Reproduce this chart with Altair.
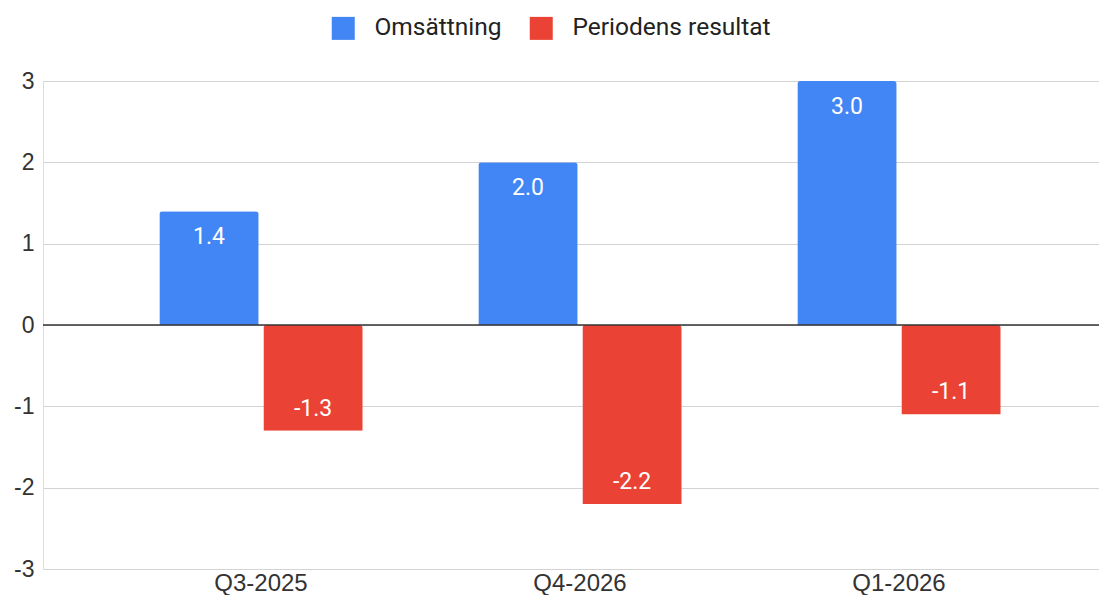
import altair as alt
import pandas as pd

categories = ["Q3-2025", "Q4-2026", "Q1-2026"]
omsattning = [1.4, 2.0, 3.0]
resultat = [-1.3, -2.2, -1.1]
series_names = ["Omsättning", "Periodens resultat"]
colors = ["#4285F4", "#EA4335"]
y_ticks = [-3, -2, -1, 0, 1, 2, 3]

rows = []
for i, c in enumerate(categories):
    for s, vals in zip(series_names, [omsattning, resultat]):
        rows.append({"kvartal": c, "serie": s, "varde": vals[i], "etikett": f"{vals[i]:.1f}"})
df = pd.DataFrame(rows)
zero = pd.DataFrame({"noll": [0]})

x_enc = alt.X(
    "kvartal:N", sort=categories, title=None,
    scale=alt.Scale(paddingInner=0.3624, paddingOuter=0.3364, align=0.542),
    axis=alt.Axis(labelAngle=0, domain=False, ticks=False, grid=False,
                  labelFont="Liberation Sans", labelFontSize=24, labelColor="#333",
                  labelPadding=21, labelBaseline="alphabetic"),
)
y_enc = alt.Y(
    "varde:Q", title=None,
    scale=alt.Scale(domain=[-3, 3], nice=False, zero=False),
    axis=alt.Axis(values=y_ticks, domain=False, ticks=False, gridColor="#d3d3d3",
                  labelFont="Liberation Sans", labelFontSize=23, labelColor="#333",
                  labelPadding=9, labelFlush=False, labelOverlap=False,
                  labelExpr="'' + datum.value"),
)
xoff = alt.XOffset("serie:N", sort=series_names,
                   scale=alt.Scale(paddingInner=0.045, paddingOuter=0))

bars = alt.Chart(df).mark_bar(cornerRadiusEnd=3).encode(
    x=x_enc, y=y_enc, xOffset=xoff,
    color=alt.Color(
        "serie:N", sort=series_names,
        scale=alt.Scale(domain=series_names, range=colors),
        legend=alt.Legend(title=None, orient="none", direction="horizontal",
                          legendX=288, legendY=-65, symbolType="square",
                          symbolSize=529, symbolStrokeWidth=0, symbolOpacity=1,
                          labelFontSize=24.5, labelFont="Roboto", labelColor="#222",
                          labelOffset=19, columnPadding=27, labelLimit=400),
    ),
)

rule = alt.Chart(zero).mark_rule(color="#333", strokeWidth=1.5).encode(
    y=alt.Y("noll:Q")
)

text_pos = alt.Chart(df).transform_filter("datum.varde >= 0").mark_text(
    color="white", fontSize=23, font="Roboto", baseline="alphabetic", dy=33
).encode(x=x_enc, y=y_enc, xOffset=xoff, text="etikett:N")

text_neg = alt.Chart(df).transform_filter("datum.varde < 0").mark_text(
    color="white", fontSize=23, font="Roboto", baseline="alphabetic", dy=-15
).encode(x=x_enc, y=y_enc, xOffset=xoff, text="etikett:N")

chart = alt.layer(bars, rule, text_pos, text_neg).properties(
    width=1056, height=488,
    autosize=alt.AutoSizeParams(type="none"),
    padding={"left": 35, "top": 73, "right": 0, "bottom": 26},
).configure_view(stroke=None).configure(background="white")

chart.save("out.html", embed_options={"renderer": "svg", "actions": False})
